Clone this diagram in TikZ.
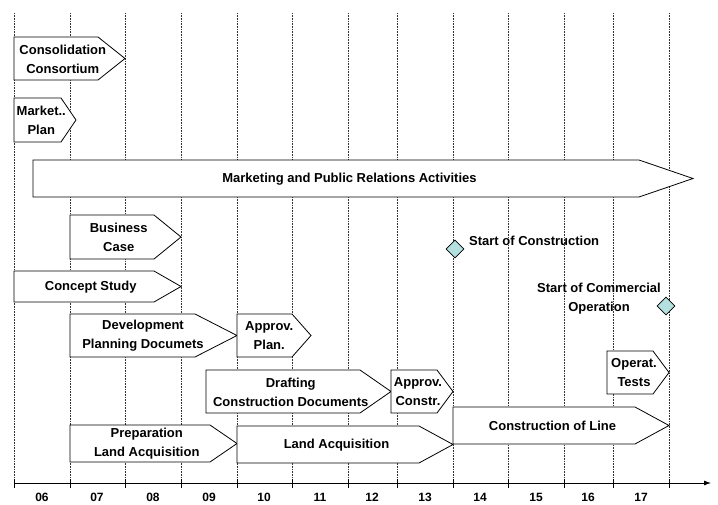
\documentclass[tikz,border=0pt]{standalone}
\usepackage{fontspec}
\setmainfont{Liberation Sans}
\usetikzlibrary{arrows.meta,shapes.geometric}
\definecolor{msfill}{RGB}{180,224,224}
\tikzset{
  tasklab/.style={font=\bfseries\fontsize{13}{19}\selectfont, align=center, inner sep=0pt},
  taskshape/.style={draw=black, fill=white, line width=0.8pt, line join=miter},
  gridline/.style={densely dotted, line width=0.6pt, black!80},
  axisline/.style={line width=0.8pt, -{Latex[length=7pt,width=5pt]}},
  ticklab/.style={font=\bfseries\fontsize{12}{14}\selectfont, inner sep=0pt},
  milestone/.style={diamond, draw=black, fill=msfill, line width=0.6pt, minimum width=18pt, minimum height=18pt, inner sep=0pt},
}
% \tasksh{name}{x-left}{x-body-end}{x-tip}{y-top}{y-bottom}{text}
\newcommand{\tasksh}[7]{%
  \draw[taskshape] (#2,#5) -- (#3,#5) -- (#4,{(#5+#6)/2}) -- (#3,#6) -- (#2,#6) -- cycle;
  \node[tasklab] (#1) at ({(#2+(#3+#4)/2)/2},{(#5+#6)/2+0.5}) {#7};
}
\begin{document}
\begin{tikzpicture}[x=1pt,y=-1pt]
\useasboundingbox (0,0) rectangle (718,504);
% grid lines
\foreach \gx in {14,70,125,181,237,292,348,397,453,508,564,613,669}{
  \draw[gridline] (\gx,13) -- (\gx,483);
  \draw[line width=0.8pt] (\gx,479) -- (\gx,488);
}
% axis
\coordinate (axS) at (14,483);
\coordinate (axE) at (711,483);
\draw[axisline] (axS) -- (axE);
\foreach \lx/\lt in {42/06,97/07,153/08,209/09,264/10,320/11,372/12,425/13,480/14,536/15,588/16,641/17}{
  \node[ticklab] (yr\lt) at (\lx,497) {\lt};
}
% tasks
\tasksh{cons}{14}{98}{125}{37}{80}{Consolidation\\Consortium}
\tasksh{mkt}{14}{61}{76}{98}{142}{Market..\\Plan}
\tasksh{mpr}{33}{639}{693}{160}{197}{Marketing and Public Relations Activities}
\tasksh{bc}{70}{154}{181}{215}{259}{Business\\Case}
\tasksh{cs}{14}{154}{181}{271}{302}{Concept Study}
\tasksh{dpd}{70}{195}{237}{314}{357}{Development\\Planning Documets}
\tasksh{ap}{237}{292}{311}{314}{357}{Approv.\\Plan.}
\tasksh{dcd}{206}{360}{391}{370}{413}{Drafting\\Construction Documents}
\tasksh{ac}{391}{437}{453}{370}{413}{Approv.\\Constr.}
\tasksh{pla}{70}{210}{237}{425}{462}{Preparation\\Land Acquisition}
\tasksh{la}{237}{419}{453}{426}{463}{Land Acquisition}
\tasksh{col}{453}{635}{669}{407}{444}{Construction of Line}
\tasksh{ot}{607}{653}{669}{351}{394}{Operat.\\Tests}
% milestones
\node[milestone] (soc) at (455,249) {};
\node[tasklab, anchor=west] (soclab) at (469,241) {Start of Construction};
\node[milestone] (sco) at (666,306) {};
\node[tasklab] (scolab) at (599,299) {Start of Commercial\\Operation};
\end{tikzpicture}
\end{document}
